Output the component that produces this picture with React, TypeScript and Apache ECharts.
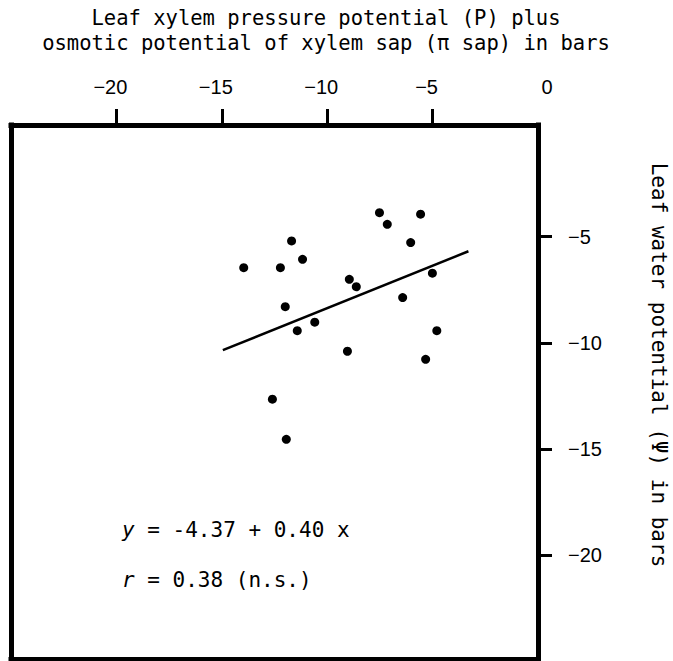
import React, { useEffect, useRef } from "react";
import * as echarts from "echarts";

// Tick positions / labels
const xTickValues = [-20, -15, -10, -5];
const xLabelValues = [-20, -15, -10, -5, 0];
const yTickValues = [-5, -10, -15, -20];

// Observations: leaf xylem pressure potential + osmotic potential of sap (x), leaf water potential (y)
const sapPotential = [
  -7.52, -5.57, -7.15, -11.69, -6.04, -11.17, -13.96, -12.22, -5.01, -8.95,
  -8.62, -6.42, -11.99, -10.59, -11.42, -4.8, -9.04, -5.33, -12.6, -11.94,
];
const leafPotential = [
  -3.87, -3.94, -4.42, -5.2, -5.28, -6.07, -6.46, -6.46, -6.72, -7.01,
  -7.36, -7.87, -8.3, -9.03, -9.43, -9.43, -10.4, -10.78, -12.66, -14.55,
];

// Regression line y = -4.37 + 0.40 x, drawn over this x range
const fitIntercept = -4.37;
const fitSlope = 0.4;
const fitRange = [-14.95, -3.3];

const titleLines = [
  "Leaf xylem pressure potential (P) plus",
  "osmotic potential of xylem sap (π sap) in bars",
];
const yTitle = "Leaf water potential (Ψ) in bars";

const MONO = "'DejaVu Sans Mono', monospace";
const SANS = "'Liberation Sans', Arial, sans-serif";

const fmtNum = (v: number) => (v < 0 ? "−" + Math.abs(v) : String(v));

export default function App() {
  const ref = useRef<HTMLDivElement>(null);

  useEffect(() => {
    document.body.style.margin = "0";
    if (!ref.current) return;
    const chart = echarts.init(ref.current, null, { renderer: "svg" });

    const points = sapPotential.map((x, i) => [x, leafPotential[i]]);
    const fitLine = fitRange.map((x) => [x, fitIntercept + fitSlope * x]);

    const frameLine = { show: true, onZero: false, lineStyle: { color: "#000", width: 5, cap: "square" } };
    const xMin = -25;
    const xMax = 0;
    const yMin = -24.9;
    const yMax = 0.26;

    const italicMono = { fontFamily: MONO, fontStyle: "italic", fontSize: 21, fill: "#000" };

    const option: any = {
      animation: false,
      backgroundColor: "#fff",
      grid: { left: 11, right: 135, top: 125, bottom: 2 },
      xAxis: [
        {
          type: "value",
          position: "top",
          min: xMin,
          max: xMax,
          axisLine: frameLine,
          axisTick: {
            show: true,
            inside: false,
            length: 16,
            customValues: xTickValues,
            lineStyle: { color: "#000", width: 3 },
          },
          axisLabel: {
            show: true,
            customValues: xLabelValues,
            margin: 28,
            fontSize: 20,
            fontFamily: SANS,
            color: "#000",
            formatter: (v: number) => (v === 0 ? "{z|0}" : "{n|" + fmtNum(v) + "}"),
            rich: {
              n: { fontSize: 20, fontFamily: SANS, color: "#000", padding: [0, 12, 0, 0] },
              z: { fontSize: 20, fontFamily: SANS, color: "#000", padding: [0, 0, 0, 18] },
            },
          },
          splitLine: { show: false },
        },
        {
          type: "value",
          position: "bottom",
          min: xMin,
          max: xMax,
          axisLine: frameLine,
          axisTick: { show: false },
          axisLabel: { show: false },
          splitLine: { show: false },
        },
      ],
      yAxis: [
        {
          type: "value",
          position: "right",
          min: yMin,
          max: yMax,
          axisLine: frameLine,
          axisTick: {
            show: true,
            inside: false,
            length: 14,
            customValues: yTickValues,
            lineStyle: { color: "#000", width: 3 },
          },
          axisLabel: {
            show: true,
            customValues: yTickValues,
            margin: 30,
            fontSize: 20,
            fontFamily: SANS,
            color: "#000",
            formatter: (v: number) => fmtNum(v),
          },
          splitLine: { show: false },
        },
        {
          type: "value",
          position: "left",
          min: yMin,
          max: yMax,
          axisLine: frameLine,
          axisTick: { show: false },
          axisLabel: { show: false },
          splitLine: { show: false },
        },
      ],
      series: [
        {
          type: "line",
          xAxisIndex: 0,
          yAxisIndex: 0,
          data: fitLine,
          symbol: "none",
          lineStyle: { color: "#000", width: 2.5 },
          silent: true,
        },
        {
          type: "scatter",
          xAxisIndex: 0,
          yAxisIndex: 0,
          data: points,
          symbol: "circle",
          symbolSize: 9,
          itemStyle: { color: "#000", opacity: 1 },
        },
      ],
      graphic: [
        {
          type: "text",
          x: 326,
          y: 18,
          style: { text: titleLines[0], font: `20.5px ${MONO}`, fill: "#000", align: "center", verticalAlign: "middle" },
        },
        {
          type: "text",
          x: 326,
          y: 43,
          style: { text: titleLines[1], font: `20.5px ${MONO}`, fill: "#000", align: "center", verticalAlign: "middle" },
        },
        {
          type: "text",
          x: 659,
          y: 365,
          rotation: -Math.PI / 2,
          style: { text: yTitle, font: `21px ${MONO}`, fill: "#000", align: "center", verticalAlign: "middle" },
        },
        {
          type: "text",
          x: 122,
          y: 530,
          style: {
            text: "{i|y} = -4.37 + 0.40 x",
            font: `21px ${MONO}`,
            fill: "#000",
            verticalAlign: "middle",
            rich: { i: italicMono },
          },
        },
        {
          type: "text",
          x: 122,
          y: 580,
          style: {
            text: "{i|r} = 0.38 (n.s.)",
            font: `21px ${MONO}`,
            fill: "#000",
            verticalAlign: "middle",
            rich: { i: italicMono },
          },
        },
      ],
    };

    chart.setOption(option);
    return () => chart.dispose();
  }, []);

  return <div ref={ref} style={{ width: 673, height: 661 }} />;
}
